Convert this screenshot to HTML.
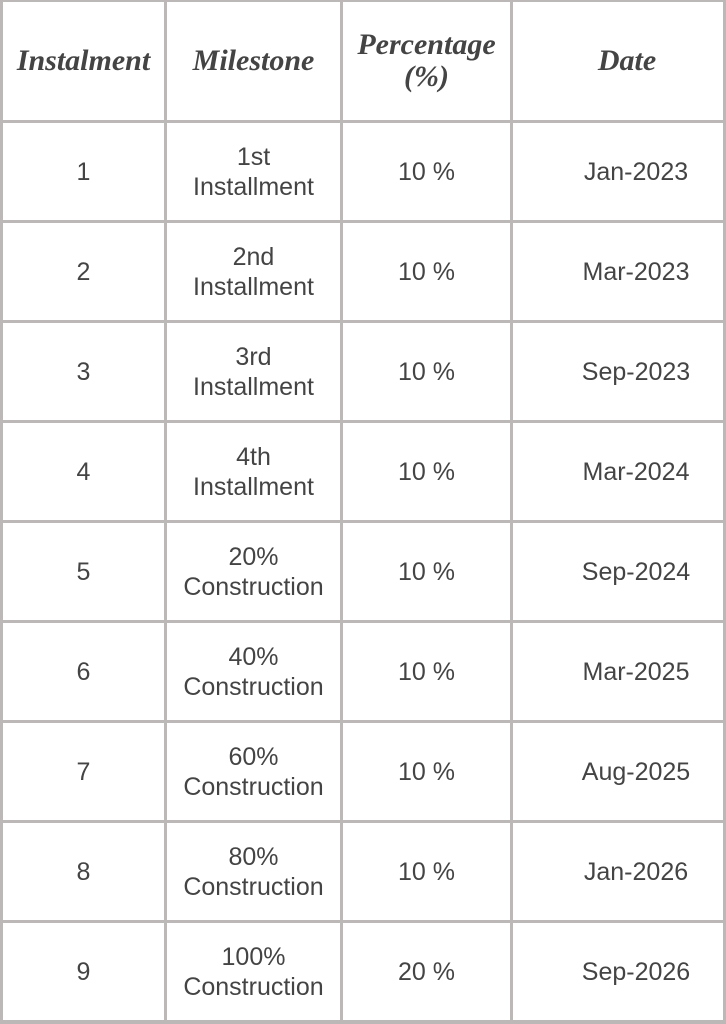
<!DOCTYPE html>
<html><head><style>
body{margin:0;width:726px;height:1024px;background:#fff;position:relative;overflow:hidden}
.l{position:absolute;background:#bcb8b8}
.c{position:absolute;display:flex;align-items:center;justify-content:center;text-align:center;color:#444;font-family:"Liberation Sans",sans-serif;font-size:25px;line-height:30px}
.h{font-family:"Liberation Serif",serif;font-style:italic;font-weight:bold;font-size:30px;line-height:32px;color:#444}
</style></head><body>
<div class="l" style="left:0;top:0;width:3px;height:1024px"></div>
<div class="l" style="left:164px;top:0;width:3px;height:1024px"></div>
<div class="l" style="left:340px;top:0;width:3px;height:1024px"></div>
<div class="l" style="left:510px;top:0;width:3px;height:1024px"></div>
<div class="l" style="left:723px;top:0;width:3px;height:1024px"></div>
<div class="l" style="left:0;top:0;width:726px;height:2px"></div>
<div class="l" style="left:0;top:120px;width:726px;height:3px"></div>
<div class="l" style="left:0;top:220px;width:726px;height:3px"></div>
<div class="l" style="left:0;top:320px;width:726px;height:3px"></div>
<div class="l" style="left:0;top:420px;width:726px;height:3px"></div>
<div class="l" style="left:0;top:520px;width:726px;height:3px"></div>
<div class="l" style="left:0;top:620px;width:726px;height:3px"></div>
<div class="l" style="left:0;top:720px;width:726px;height:3px"></div>
<div class="l" style="left:0;top:820px;width:726px;height:3px"></div>
<div class="l" style="left:0;top:920px;width:726px;height:3px"></div>
<div class="l" style="left:0;top:1020px;width:726px;height:4px"></div>

<div class="c h" style="left:3px;top:2px;width:161px;height:118px">Instalment</div>
<div class="c h" style="left:167px;top:2px;width:173px;height:118px">Milestone</div>
<div class="c h" style="left:343px;top:2px;width:167px;height:118px">Percentage<br>(%)</div>
<div class="c h" style="left:531px;top:2px;width:192px;height:118px">Date</div>

<div class="c" style="left:3px;top:123px;width:161px;height:97px">1</div>
<div class="c" style="left:167px;top:123px;width:173px;height:97px">1st<br>Installment</div>
<div class="c" style="left:343px;top:123px;width:167px;height:97px">10 %</div>
<div class="c" style="left:540px;top:123px;width:192px;height:97px">Jan-2023</div>

<div class="c" style="left:3px;top:223px;width:161px;height:97px">2</div>
<div class="c" style="left:167px;top:223px;width:173px;height:97px">2nd<br>Installment</div>
<div class="c" style="left:343px;top:223px;width:167px;height:97px">10 %</div>
<div class="c" style="left:540px;top:223px;width:192px;height:97px">Mar-2023</div>

<div class="c" style="left:3px;top:323px;width:161px;height:97px">3</div>
<div class="c" style="left:167px;top:323px;width:173px;height:97px">3rd<br>Installment</div>
<div class="c" style="left:343px;top:323px;width:167px;height:97px">10 %</div>
<div class="c" style="left:540px;top:323px;width:192px;height:97px">Sep-2023</div>

<div class="c" style="left:3px;top:423px;width:161px;height:97px">4</div>
<div class="c" style="left:167px;top:423px;width:173px;height:97px">4th<br>Installment</div>
<div class="c" style="left:343px;top:423px;width:167px;height:97px">10 %</div>
<div class="c" style="left:540px;top:423px;width:192px;height:97px">Mar-2024</div>

<div class="c" style="left:3px;top:523px;width:161px;height:97px">5</div>
<div class="c" style="left:167px;top:523px;width:173px;height:97px">20%<br>Construction</div>
<div class="c" style="left:343px;top:523px;width:167px;height:97px">10 %</div>
<div class="c" style="left:540px;top:523px;width:192px;height:97px">Sep-2024</div>

<div class="c" style="left:3px;top:623px;width:161px;height:97px">6</div>
<div class="c" style="left:167px;top:623px;width:173px;height:97px">40%<br>Construction</div>
<div class="c" style="left:343px;top:623px;width:167px;height:97px">10 %</div>
<div class="c" style="left:540px;top:623px;width:192px;height:97px">Mar-2025</div>

<div class="c" style="left:3px;top:723px;width:161px;height:97px">7</div>
<div class="c" style="left:167px;top:723px;width:173px;height:97px">60%<br>Construction</div>
<div class="c" style="left:343px;top:723px;width:167px;height:97px">10 %</div>
<div class="c" style="left:540px;top:723px;width:192px;height:97px">Aug-2025</div>

<div class="c" style="left:3px;top:823px;width:161px;height:97px">8</div>
<div class="c" style="left:167px;top:823px;width:173px;height:97px">80%<br>Construction</div>
<div class="c" style="left:343px;top:823px;width:167px;height:97px">10 %</div>
<div class="c" style="left:540px;top:823px;width:192px;height:97px">Jan-2026</div>

<div class="c" style="left:3px;top:923px;width:161px;height:97px">9</div>
<div class="c" style="left:167px;top:923px;width:173px;height:97px">100%<br>Construction</div>
<div class="c" style="left:343px;top:923px;width:167px;height:97px">20 %</div>
<div class="c" style="left:540px;top:923px;width:192px;height:97px">Sep-2026</div>
</body></html>
